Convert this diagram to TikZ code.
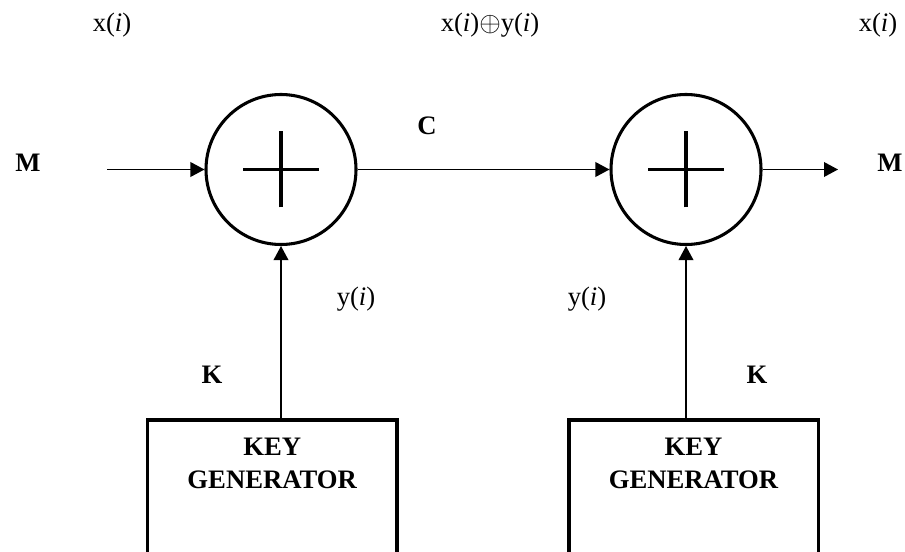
\documentclass[tikz,border=0pt]{standalone}
\usepackage{fontspec}
\setmainfont{Liberation Serif}
\usetikzlibrary{arrows.meta}
\begin{document}
\begin{tikzpicture}[x=0.75pt,y=-0.75pt,
  xorc/.style={circle,draw,line width=2.3pt,minimum size=112.5pt,inner sep=0pt},
  keybox/.style={draw,line width=2.5pt,minimum width=187pt,minimum height=135pt,inner sep=0pt},
  lbl/.style={font=\fontsize{20}{24}\selectfont,inner sep=0pt,anchor=base},
  blbl/.style={font=\fontsize{20}{24}\selectfont\bfseries,inner sep=0pt,anchor=base},
  ktext/.style={font=\fontsize{20}{24.75}\selectfont\bfseries,align=center,inner sep=0pt},
  sig/.style={line width=1.1pt,-{Triangle[length=10.5pt,width=11pt]}},
  plusbar/.style={line width=2.3pt}]
\useasboundingbox (0,0) rectangle (905,552);
% XOR circles
\node[xorc] (c1) at (281,169.5) {};
\node[xorc] (c2) at (686,169.5) {};
\draw[plusbar] ([xshift=-28.5pt]c1.center) -- ([xshift=28.5pt]c1.center);
\draw[plusbar] ([yshift=-28.5pt]c1.center) -- ([yshift=28.5pt]c1.center);
\draw[plusbar] ([xshift=-28.5pt]c2.center) -- ([xshift=28.5pt]c2.center);
\draw[plusbar] ([yshift=-28.5pt]c2.center) -- ([yshift=28.5pt]c2.center);
% key generator boxes
\node[keybox] (kg1) at (272.2,510) {};
\node[keybox] (kg2) at (693.5,510) {};
\node[ktext] (kt1) at (272.2,463) {KEY\\GENERATOR};
\node[ktext] (kt2) at (693.5,463) {KEY\\GENERATOR};
% connectors
\coordinate (min) at (107,169.5);
\coordinate (mout) at (838,169.5);
\draw[sig] (min) -- (c1.west);
\draw[sig] (c1.east) -- (c2.west);
\draw[sig] (c2.east) -- (mout);
\draw[sig] (c1.south |- kg1.north) -- (c1.south);
\draw[sig] (c2.south |- kg2.north) -- (c2.south);
% labels
\node[lbl] (x1) at (112,32) {x(\textit{i})};
\node[lbl] (x2) at (490,32) {x(\textit{i})$\oplus$y(\textit{i})};
\node[lbl] (x3) at (878,32) {x(\textit{i})};
\node[blbl] (m1) at (28,172) {M};
\node[blbl] (m2) at (890,172) {M};
\node[blbl] (cc) at (427,135) {C};
\node[lbl] (y1) at (356,305) {y(\textit{i})};
\node[lbl] (y2) at (587,305) {y(\textit{i})};
\node[blbl] (k1) at (212,383) {K};
\node[blbl] (k2) at (757,383) {K};
\end{tikzpicture}
\end{document}
